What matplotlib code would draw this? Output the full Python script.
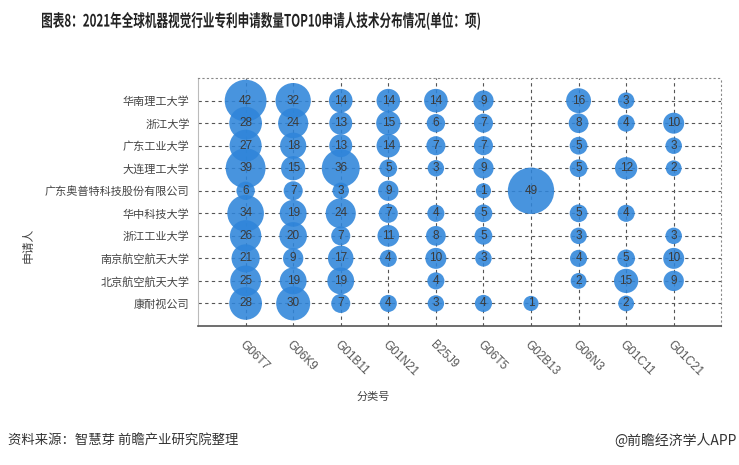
import matplotlib
matplotlib.use('Agg')
import matplotlib.pyplot as plt
import numpy as np
from matplotlib.textpath import TextPath
from matplotlib.patches import PathPatch
from matplotlib.font_manager import FontProperties
from matplotlib.transforms import Affine2D

plt.rcParams['font.family'] = ['Noto Sans CJK SC', 'DejaVu Sans']

codes = ['G06T7', 'G06K9', 'G01B11', 'G01N21', 'B25J9', 'G06T5', 'G02B13', 'G06N3', 'G01C11', 'G01C21']
applicants = ['华南理工大学', '浙江大学', '广东工业大学', '大连理工大学', '广东奥普特科技股份有限公司',
              '华中科技大学', '浙江工业大学', '南京航空航天大学', '北京航空航天大学', '康耐视公司']

# counts per applicant, in code order (0 = no patents)
r_scut = [42, 32, 14, 14, 14, 9, 0, 16, 3, 0]
r_zju = [28, 24, 13, 15, 6, 7, 0, 8, 4, 10]
r_gdut = [27, 18, 13, 14, 7, 7, 0, 5, 0, 3]
r_dlut = [39, 15, 36, 5, 3, 9, 0, 5, 12, 2]
r_opt = [6, 7, 3, 9, 0, 1, 49, 0, 0, 0]
r_hust = [34, 19, 24, 7, 4, 5, 0, 5, 4, 0]
r_zjut = [26, 20, 7, 11, 8, 5, 0, 3, 0, 3]
r_nuaa = [21, 9, 17, 4, 10, 3, 0, 4, 5, 10]
r_buaa = [25, 19, 19, 0, 4, 0, 0, 2, 15, 9]
r_cognex = [28, 30, 7, 4, 3, 4, 1, 0, 2, 0]

rows = [r_scut, r_zju, r_gdut, r_dlut, r_opt, r_hust, r_zjut, r_nuaa, r_buaa, r_cognex]

title = '图表8：2021年全球机器视觉行业专利申请数量TOP10申请人技术分布情况(单位：项)'

fig = plt.figure(figsize=(7.39, 4.65), dpi=100)
ax = fig.add_axes([0.268, 0.299, 0.708, 0.533])

xs, ys, vs = [], [], []
for i, row in enumerate(rows):
    for j, v in enumerate(row):
        if v > 0:
            xs.append(j)
            ys.append(i)
            vs.append(v)
vs = np.array(vs)
d_px = 14.5 + 0.65 * vs
ax.scatter(xs, ys, s=(d_px * 0.72) ** 2, color='#2f85da', alpha=0.88,
           edgecolors='none', zorder=3)
for x, y, v in zip(xs, ys, vs):
    ax.text(x, y, str(v), ha='center', va='center', fontsize=8.5,
            color='#3a3a3a', zorder=4, family=['Liberation Sans'])

ax.set_xlim(-1, 10)
ax.set_ylim(10, -1)
ax.set_xticks(range(len(codes)))
ax.set_yticks(range(len(applicants)))
ax.set_yticklabels(applicants, fontsize=8, color='#444444')
ax.set_xticklabels(codes, rotation=-45, ha='left', va='top', rotation_mode='anchor',
                   fontsize=8.5, color='#555555', family=['Liberation Sans'])
ax.tick_params(length=0, pad=6)
ax.tick_params(axis='x', pad=9)

ax.grid(True, linestyle=(0, (3, 3)), color='#555555', linewidth=0.8, zorder=0)
ax.set_axisbelow(True)
for s in ['top', 'right']:
    ax.spines[s].set_linestyle((0, (1, 3)))
    ax.spines[s].set_color('#888888')
ax.spines['left'].set_color('#bbbbbb')
ax.spines['bottom'].set_color('#555555')
ax.spines['bottom'].set_linewidth(1.2)

fig.text(0.505, 0.146, '分类号', fontsize=8, color='#444444', ha='center', va='center')
fig.text(0.038, 0.473, '申请人', fontsize=8.5, color='#444444', rotation=90, ha='center', va='center')

# condensed bold title, drawn as a path squeezed horizontally
tp = TextPath((0, 0), title, size=17,
              prop=FontProperties(family='Noto Sans CJK SC', weight='bold'))
ext = tp.get_extents()
sx = 438.0 / ext.width
tr = Affine2D().translate(-ext.x0, -ext.y0).scale(sx, 1).translate(42, 465 - 30)
fig.patches.append(PathPatch(tp, transform=tr, facecolor='#222222', edgecolor='none'))

fig.text(0.011, 0.052, '资料来源：智慧芽 前瞻产业研究院整理', fontsize=9.6, color='#333333',
         ha='left', va='center')
fig.text(0.997, 0.052, '@前瞻经济学人APP', fontsize=10, color='#333333', ha='right', va='center')

fig.savefig('out.png', dpi=100)
